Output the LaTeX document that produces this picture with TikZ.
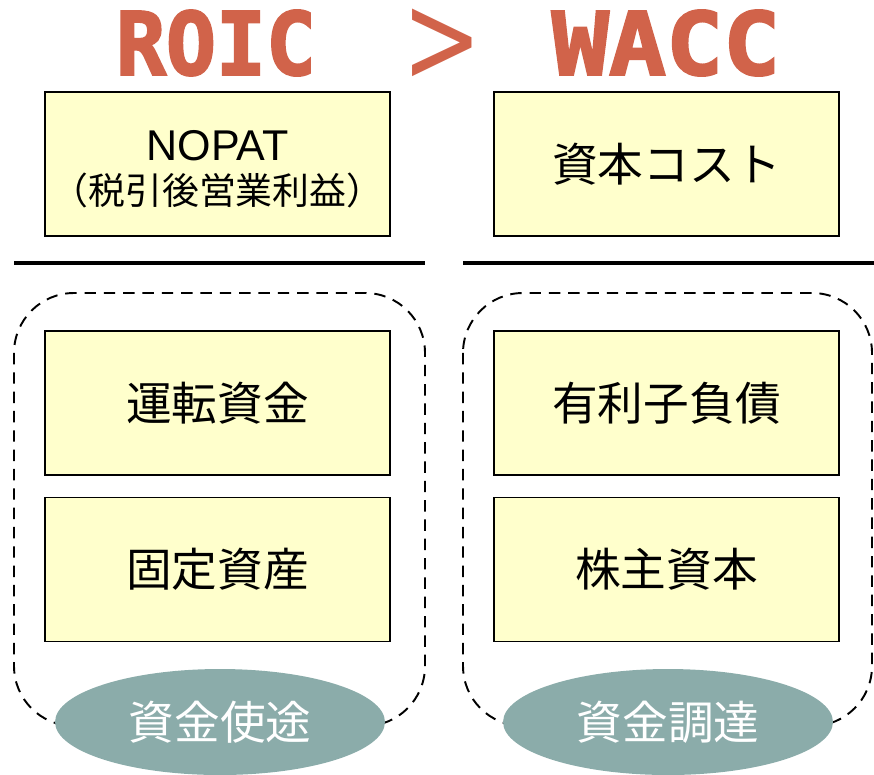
\documentclass[tikz,border=0pt]{standalone}
\usepackage{fontspec}
\setmainfont{Liberation Sans}
\newfontfamily\jp{Noto Sans CJK JP}
\newfontfamily\titlefont{DejaVu Sans Mono Bold}[FakeBold=2.5]
\newfontfamily\gtfont{DejaVu Sans}
\usetikzlibrary{shapes}
\definecolor{titlered}{RGB}{209,99,74}
\definecolor{boxyellow}{RGB}{255,255,204}
\definecolor{tealgray}{RGB}{139,172,170}
\tikzset{
    title/.style={text=titlered,font=\titlefont\fontsize{45}{45}\selectfont},
    item/.style={draw,fill=boxyellow,line width=1.1pt,minimum width=6.9cm,minimum height=2.88cm,inner sep=0pt,align=center,font=\jp\fontsize{26}{30}\selectfont},
    bar/.style={line width=2.8pt},
    group/.style={line width=1.1pt,dash pattern=on 6.5pt off 4.5pt,rounded corners=1.2cm},
    tag/.style={ellipse,fill=tealgray,text=white,minimum width=6.6cm,minimum height=2.12cm,inner sep=0pt,font=\jp\fontsize{26}{30}\selectfont}
}
\begin{document}
\begin{tikzpicture}[x=0.02cm,y=-0.02cm]
\useasboundingbox (0,0) rectangle (874,774);
% title
\node[title] (roic) at (216,43) {\scalebox{1.05}[1.1]{ROIC}};
\node[title,font=\gtfont\fontsize{45}{45}\selectfont] (gt) at (442,46) {\scalebox{1.2}[1.6]{>}};
\node[title] (wacc) at (666,43) {\scalebox{1.2}[1.1]{WACC}};

% numerators
\node[item] (nopat) at (217.5,164) {\raisebox{-0.16cm}[\height][\depth]{\begin{tabular}{@{}c@{}}\rmfamily\fontsize{24.5}{26}\selectfont NOPAT\\[-5pt]\jp\fontsize{21}{22}\selectfont （税引後営業利益）\end{tabular}}};
\node[item] (cost) at (666.5,164) {資本コスト};

% fraction bars
\draw[bar] (14,263) -- (425,263);
\draw[bar] (463,263) -- (874,263);

% denominators
\draw[group] (14,293) rectangle (425,726);
\draw[group] (463,293) rectangle (872,726);

\node[item] (wc) at (217.5,403) {運転資金};
\node[item] (fa) at (217.5,569.5) {固定資産};
\node[item] (debt) at (666.5,403) {有利子負債};
\node[item] (equity) at (666.5,569.5) {株主資本};

\node[tag] (use) at (220,722) {資金使途};
\node[tag] (fund) at (668,722) {資金調達};
\end{tikzpicture}
\end{document}
